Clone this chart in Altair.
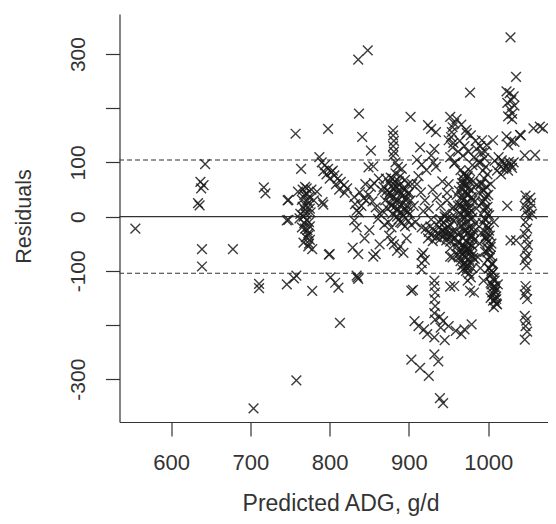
import altair as alt
import pandas as pd

# ---- data (predicted ADG g/d, residual) ----
adg_left = [555, 634, 636, 637, 638, 641, 643, 639, 639, 678, 704, 717, 719, 711, 711]
res_left = [-22, 25, 21, 64, 52, 58, 97, -60, -92, -60, -354, 54, 43, -124, -132]

adg_b = [757, 764, 747, 746, 758, 755, 746, 758, 778, 798, 791, 800, 801, 807, 811, 813, 799,
         769, 771, 765, 773, 769, 767, 771, 775, 773, 775, 773, 748, 748, 792, 784, 760, 766, 774,
         770, 763, 776, 768, 772, 770, 774, 778, 762, 780, 765, 777,
         787, 790, 794, 798, 802, 806, 810, 814, 818, 822, 796, 800, 804, 792, 808, 812, 819,
         768, 772, 766, 770, 774, 769, 773, 767, 771, 775]
res_b = [153, 88, 30, -7, -109, -114, -125, -302, -137, 162, 27, -69, -112, -122, -131, -196, -70,
         55, 43, 31, 25, 12, 0, -6, -18, -31, -43, -55, 31, -6, 22, 46, 46, 50, 36,
         20, 5, 8, -12, -25, -38, -50, -60, -3, 30, -20, 50,
         110, 100, 95, 88, 82, 76, 70, 64, 58, 52, 78, 70, 85, 84, 60, 50, 44,
         40, 30, 18, 5, -10, -22, -35, -48, 52, 15]

adg_c = [836, 848, 837, 841, 852, 849, 855, 831, 832, 834, 831, 834, 838, 843, 849, 854, 858,
         829, 836, 834, 836, 835, 858, 863, 855, 861, 863, 846, 840, 837, 852, 845, 856, 862, 866,
         844, 850]
res_c = [290, 307, 190, 147, 122, 91, 93, 36, 23, 11, -7, -20, 45, 34, 40, 28, 17,
         -57, -69, -109, -115, -112, -69, -51, -74, -4, 5, 30, 20, 8, 55, 60, 62, 70, 48,
         -40, -25]

adg_d = [880, 880, 881, 880, 881, 880, 902,
         868, 872, 875, 878, 880, 882, 884, 886, 888, 890, 892, 894, 896, 898, 900, 902,
         870, 873, 876, 879, 882, 885, 887, 889, 891, 893, 895, 897, 899, 901, 903,
         871, 877, 883, 889, 895, 899, 886, 891, 883, 874, 878, 867, 869, 904,
         881, 885, 889, 893, 903, 875, 897, 878,
         876, 880, 884, 888, 892, 896, 878, 882, 886, 890, 894, 898, 874, 881, 887, 893, 899,
         885, 889, 879]
res_d = [159, 150, 140, 130, 120, 112, 184,
         55, 48, 62, 40, 52, 65, 45, 30, 58, 42, 25, 50, 35, 20, 45, 30,
         30, 15, 25, 5, 18, 10, -5, 8, -12, 2, -18, 12, -8, 5, -15,
         70, 72, 80, 75, 68, 60, 92, 88, 100, -10, -20, 10, -15, 60,
         -51, -63, -55, -67, -137, -35, -40, -45,
         45, 35, 55, 48, 38, 30, 20, 28, 15, 22, 12, 8, 40, 60, 65, 52, 42,
         0, -10, 70]

adg_e = [914, 928, 934, 924, 928, 932, 931, 934, 910, 916, 922, 952, 957, 954, 950, 955, 952, 957,
         955, 953, 956,
         910, 915, 920, 925, 930, 935, 940, 945, 912, 918, 928, 938, 948, 955, 960, 942, 950, 958,
         962, 906, 908, 916,
         921, 925, 928, 931, 934, 936, 939, 942, 944, 947, 950, 953, 956, 958, 961, 924, 930, 940,
         946, 952, 927, 938,
         940, 944, 948, 952, 956, 942, 946, 950, 954, 945, 949, 953, 948, 956,
         916, 916, 916, 905, 932, 932, 933, 932, 933, 932, 933, 932, 952, 952, 952, 955, 957,
         907, 912, 919, 923, 943, 950, 959, 966, 970, 979, 939, 945, 940, 903, 914, 925, 932, 937,
         939, 943, 918, 920]
res_e = [128, 162, 156, 169, 113, 125, 100, 92, 105, 96, 86, 184, 172, 156, 141, 128, 110, 98,
         165, 147, 136,
         60, 45, 30, 15, 50, 35, 20, 5, 75, 10, -5, -10, 30, 15, 40, 65, 60, 0,
         20, 20, -10, -20,
         -22, -28, -34, -25, -38, -30, -42, -27, -36, -44, -30, -38, -26, -40, -32, -40, -45, -35,
         -22, -46, -18, -20,
         -5, -12, -3, -15, -8, -25, -30, -20, -33, 0, -37, -2, 44, 18,
         -71, -86, -98, -135, -118, -128, -140, -152, -165, -178, -190, -223, -58, -74, -129, -75, -128,
         -193, -202, -208, -217, -193, -202, -211, -217, -208, -199, -185, -228, -205, -264, -279, -294, -254, -267,
         -335, -344, -67, -80]

adg_f = [970, 974, 968, 976, 972, 966, 978, 970, 974, 968, 980, 972, 966, 976, 970, 974, 968, 978,
         972, 966, 976, 970, 974, 980, 968, 972, 976, 970, 974, 978, 968, 972, 976, 970, 974, 980,
         972, 976, 978, 974, 964, 962, 965, 963, 967, 969, 975, 971, 977, 973, 979, 967, 965, 981,
         960, 962, 977, 982, 977,
         960, 966, 972, 978, 984, 990, 996, 964, 970, 975, 982, 988, 962, 968, 958, 980, 985, 973,
         992, 998, 1006,
         965, 969, 973, 977, 981, 985, 963, 967, 971, 975, 979, 983, 964, 968, 972, 976, 980, 984,
         966, 970, 974, 978, 982, 962, 967, 971, 975, 979, 983, 965, 969, 973, 977, 981,
         964, 968, 972, 976, 980, 966, 970, 974, 978, 982]
res_f = [80, 75, 70, 65, 60, 55, 50, 45, 40, 35, 30, 25, 20, 15, 10, 5, 0, -5,
         -10, -15, -20, -25, -30, -35, -40, -45, -50, -55, -60, -65, -70, -75, -80, -85, -90, -95,
         -100, -105, -112, -118, -30, -45, -60, -75, -90, 62, 52, -2, -42, -68, 10, 38, 5, -20,
         -55, -70, -137, -140, 229,
         180, 170, 160, 150, 140, 130, 120, 140, 130, 120, 110, 100, 120, 112, 100, 95, 125, 154,
         141, 132, 141,
         86, 78, 72, 84, 66, 58, 48, 62, 55, 42, 36, 28, 22, 30, 14, 8, -2, -12,
         -18, -28, -22, -34, -44, -48, -52, -62, -58, -72, -78, -82, -88, -95, -85, -76,
         -66, -98, -92, -63, -54, -8, 16, 26, -37, -27]

adg_g = [992, 995, 990, 997, 993, 999, 995, 991, 998, 994, 1000, 996, 992, 999, 995, 1001, 997,
         993, 1000, 996, 1002, 998, 1004, 1000, 996, 1003, 999, 1005, 1001, 1006, 1002, 1008, 1004,
         1009, 1005, 1010, 1006, 1011, 1003, 1008, 989, 987, 991, 985, 988, 1003, 1007, 990, 994,
         1012,
         991, 994, 997, 993, 996, 999, 995, 998, 1001, 997, 1000, 1003, 999, 1002, 1005, 1001,
         1004, 1007, 1003, 1006, 1009, 1005, 1008, 1010, 1007, 1010, 996, 1000, 1004, 1008]
res_g = [118, 108, 100, 92, 85, 78, 70, 62, 55, 48, 40, 32, 25, 18, 10, 3, -5,
         -12, -20, -28, -35, -42, -50, -58, -65, -72, -80, -88, -95, -103, -110, -118, -125,
         -132, -140, -147, -155, -162, -150, -138, -50, -75, -30, 15, 45, 60, -10, -95, -118,
         -125,
         60, 50, 38, 28, 16, 6, -4, -16, -26, -36, -46, -56, -66, -76, -86, -96,
         -106, -114, -122, -130, -138, -146, -154, -160, -167, -152, -40, -60, -100, -128]

adg_h = [1028, 1035, 1023, 1027, 1032, 1029, 1024, 1033, 1027, 1030, 1025, 1030, 1023, 1025,
         1029, 1033, 1040, 1017, 1020, 1023, 1026, 1029, 1032, 1019, 1025, 1030, 1014, 1011, 1016,
         1024, 1028, 1035, 1041, 1013, 1008]
res_h = [331, 258, 231, 228, 222, 215, 210, 205, 198, 190, 185, 180, 148, 132,
         140, 138, 151, 104, 98, 92, 101, 95, 100, 88, 85, 90, 95, 85, 78,
         20, -44, -44, 150, 110, 103]

adg_i = [1046, 1057, 1065, 1069, 1059,
         1047, 1049, 1046, 1048, 1050, 1047, 1049, 1046, 1048, 1050, 1047, 1049, 1046, 1048,
         1047, 1048, 1046, 1049, 1046, 1048, 1047, 1049, 1046, 1053, 1054, 1053, 1055]
res_i = [113, 163, 166, 163, 114,
         39, 30, 20, 10, 2, -10, -22, -32, -42, -52, -62, -72, -80, -90,
         -128, -136, -144, -152, -183, -192, -202, -212, -227, 35, 25, 15, 5]

ref_zero = [0]
ref_bands = [-104.5, 104.5]

x_ticks = [600, 700, 800, 900, 1000]
y_ticks = [-300, -200, -100, 0, 100, 200, 300]

adg = adg_left + adg_b + adg_c + adg_d + adg_e + adg_f + adg_g + adg_h + adg_i
res = res_left + res_b + res_c + res_d + res_e + res_f + res_g + res_h + res_i
df = pd.DataFrame({"adg": adg, "res": res})

FONT = "Liberation Sans"
INK = "#333333"

xscale = alt.Scale(domain=[535, 1075.3], nice=False, zero=False)
yscale = alt.Scale(domain=[-379, 374], nice=False, zero=False)

points = alt.Chart(df).mark_point(
    shape="M-1,-1L1,1M-1,1L1,-1", filled=False, size=95, strokeWidth=1.4,
    color="#1a1a1a", opacity=0.85, clip=True
).encode(
    x=alt.X("adg:Q", scale=xscale, axis=alt.Axis(
        values=x_ticks, title="Predicted ADG, g/d", labelBaseline="alphabetic",
        labelPadding=33, labelFlush=False, labelOverlap=False, labelFontSize=22,
        labelExpr="'' + datum.value", titleFontSize=23,
        titleX=221, titleY=88.7, titleAlign="center", titleBaseline="alphabetic")),
    y=alt.Y("res:Q", scale=yscale, axis=alt.Axis(
        values=y_ticks, title="Residuals", labelAngle=270, labelAlign="center",
        labelBaseline="alphabetic", labelPadding=21, labelFlush=False, labelOverlap=False,
        labelFontSize=21, titleFontSize=21.5,
        labelExpr="(datum.value == 200 || datum.value == -200) ? '' : '' + datum.value",
        titleAngle=270, titleX=-89.5, titleY=202, titleAlign="center",
        titleBaseline="alphabetic")),
)

zero_line = alt.Chart(pd.DataFrame({"y": ref_zero})).mark_rule(
    color=INK, strokeWidth=1.2).encode(y=alt.Y("y:Q", scale=yscale))
band_lines = alt.Chart(pd.DataFrame({"y": ref_bands})).mark_rule(
    color=INK, strokeWidth=1.2, strokeDash=[5, 3]).encode(y=alt.Y("y:Q", scale=yscale))

chart = alt.layer(zero_line, band_lines, points).properties(
    width=428.5, height=408,
    autosize=alt.AutoSizeParams(type="none"),
    padding={"left": 111.5, "top": 6, "right": 0, "bottom": 94},
    background="white",
).configure_view(stroke=None).configure_axis(
    grid=False, domainColor=INK, domainWidth=1.2, tickColor=INK, tickWidth=1.2,
    tickSize=14, labelFont=FONT, labelColor=INK,
    titleFont=FONT, titleFontWeight="normal", titleColor=INK,
)

chart.save("out.html", embed_options={"renderer": "svg", "actions": False})
